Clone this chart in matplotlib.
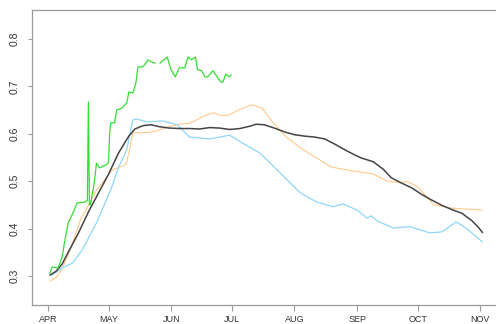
import numpy as np
import matplotlib
matplotlib.use("Agg")
import matplotlib.pyplot as plt

plt.rcParams['font.family'] = ['Liberation Sans', 'DejaVu Sans']

# x values are days since April 1
month_days = [0, 30, 61, 91, 122, 153, 183, 214]
month_labels = ["APR", "MAY", "JUN", "JUL", "AUG", "SEP", "OCT", "NOV"]

black_day = [1, 4, 7, 10, 15, 20, 25, 30, 35, 40, 43, 47, 51, 55, 60, 65, 70, 75,
             80, 85, 90, 95, 100, 103, 107, 112, 117, 122, 127, 132, 137, 142, 147,
             152, 155, 158, 161, 166, 170, 175, 180, 185, 190, 195, 200, 205, 210,
             213, 215]
black_val = [0.302, 0.310, 0.325, 0.350, 0.390, 0.435, 0.475, 0.515, 0.560, 0.595,
             0.610, 0.617, 0.619, 0.615, 0.612, 0.611, 0.611, 0.610, 0.613, 0.612,
             0.609, 0.611, 0.616, 0.620, 0.619, 0.612, 0.604, 0.598, 0.595, 0.593,
             0.589, 0.578, 0.566, 0.555, 0.549, 0.545, 0.541, 0.525, 0.507, 0.496,
             0.486, 0.472, 0.460, 0.449, 0.440, 0.432, 0.416, 0.403, 0.392]

orange_day = [1, 4, 7, 11, 16, 24, 32, 38, 39, 41, 42, 45, 50, 54, 59, 65, 70, 73,
              78, 82, 86, 90, 95, 101, 106, 111, 118, 125, 133, 140, 145, 155, 161,
              168, 174, 178, 183, 191, 200, 215]
orange_val = [0.289, 0.297, 0.315, 0.355, 0.418, 0.481, 0.524, 0.534, 0.540, 0.580,
              0.604, 0.602, 0.603, 0.606, 0.614, 0.620, 0.622, 0.628, 0.639, 0.644,
              0.638, 0.640, 0.652, 0.661, 0.654, 0.625, 0.593, 0.570, 0.549, 0.530,
              0.526, 0.519, 0.515, 0.500, 0.497, 0.499, 0.488, 0.450, 0.443, 0.439]

blue_day = [2, 7, 12, 17, 24, 31, 35, 39, 42, 44, 49, 57, 64, 70, 80, 90, 96, 105,
            115, 125, 133, 141, 146, 153, 158, 160, 163, 171, 179, 189, 195, 202,
            207, 215]
blue_val = [0.302, 0.317, 0.327, 0.355, 0.412, 0.481, 0.530, 0.566, 0.629, 0.631,
            0.625, 0.627, 0.619, 0.593, 0.589, 0.597, 0.581, 0.559, 0.517, 0.475,
            0.456, 0.446, 0.452, 0.439, 0.422, 0.427, 0.416, 0.401, 0.404, 0.391,
            0.393, 0.414, 0.401, 0.372]

green_day = [1, 2, 5, 7, 8.4, 10, 12.4, 14.4, 18.3, 19.5, 20, 20.5, 21, 23, 24,
             25.5, 29, 30, 30.5, 31, 33, 34, 36.6, 39, 40, 42, 43.5, 44.5, 47, 49.5,
             51.5, 53, 54.5, 55.5, 59, 60.9, 63, 65, 67.8, 69.3, 71, 73, 74, 76,
             77.7, 79, 81.7, 83.7, 85.6, 86.6, 88, 89.6, 90.6]
green_val = [0.306, 0.319, 0.317, 0.340, 0.376, 0.412, 0.433, 0.454, 0.456, 0.460,
             0.667, 0.450, 0.450, 0.500, 0.538, 0.528, 0.535, 0.540, 0.600, 0.623,
             0.623, 0.650, 0.654, 0.665, 0.688, 0.686, 0.707, 0.741, 0.741, 0.756,
             0.751, 0.749, np.nan, 0.749, 0.762, 0.735, 0.720, 0.739, 0.739, 0.762,
             0.756, 0.762, 0.735, 0.733, 0.720, 0.720, 0.733, 0.720, 0.709, 0.709,
             0.726, 0.720, 0.724]

fig = plt.figure(figsize=(4.96, 3.24), dpi=100)
ax = fig.add_axes([32 / 496, 19 / 324, (530 - 32) / 496, 295 / 324])

ax.plot(orange_day, orange_val, color="#ffc98a", lw=0.8)
ax.plot(blue_day, blue_val, color="#8fd6f8", lw=0.9)
ax.plot(black_day, black_val, color="#444444", lw=1.1)
ax.plot(green_day, green_val, color="#33dd33", lw=0.9)

ax.set_xlim((32 - 48) / 2.02, (530 - 48) / 2.02)
ax.set_ylim(0.2388, 0.861)

ax.set_xticks(month_days)
ax.set_xticklabels(month_labels)
ax.set_yticks([0.3, 0.4, 0.5, 0.6, 0.7, 0.8])
ax.set_yticklabels(["0.3", "0.4", "0.5", "0.6", "0.7", "0.8"], rotation=90, va="center")

for side in ["left", "bottom", "top"]:
    ax.spines[side].set_color("#9a9a9a")
    ax.spines[side].set_linewidth(0.9)
ax.spines["right"].set_visible(False)
ax.tick_params(axis="x", length=4, color="#9a9a9a", labelsize=6.5, labelcolor="#333333", pad=3)
ax.tick_params(axis="y", length=3, color="#9a9a9a", labelsize=7.5, labelcolor="#333333", pad=6)

fig.savefig("out.png", dpi=100)
